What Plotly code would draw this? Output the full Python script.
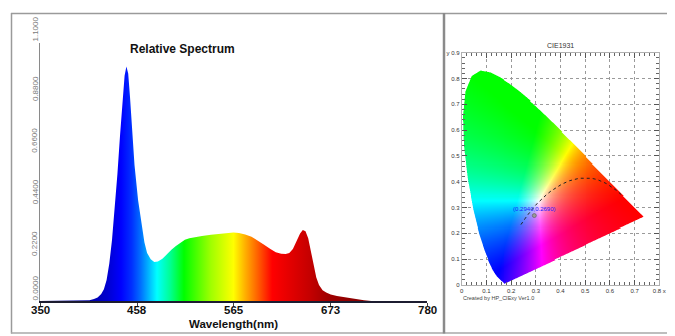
import numpy as np
import plotly.graph_objects as go

# The page places the figure 8 px from the top-left corner, so the figure is
# sized to fill the rest of the 675x336 window and positions are offset.
PAGE_W, PAGE_H, OFF = 675, 336, 8
W, H = PAGE_W - OFF, PAGE_H - OFF

# ---------------- Relative spectrum data ----------------
wavelength = [350, 400, 405, 410, 414, 418, 421, 424, 427, 430, 433, 436, 439, 442, 444, 446, 448, 450, 452, 455,
              459, 463, 466, 469, 473, 477, 481, 486, 491, 496, 501, 506, 511, 516, 522, 530, 540, 550, 558, 565,
              571, 578, 585, 592, 599, 606, 612, 618, 623, 627, 631, 635, 639, 642, 645, 648, 651, 654, 657, 660,
              664, 668, 673, 680, 690, 700, 710, 718, 780]
relative = [0, 0, 0.003, 0.008, 0.015, 0.03, 0.05, 0.09, 0.16, 0.26, 0.39, 0.54, 0.71, 0.87, 0.96, 1.0, 0.97, 0.87, 0.75, 0.58,
            0.43, 0.32, 0.25, 0.205, 0.178, 0.166, 0.168, 0.18, 0.2, 0.218, 0.235, 0.25, 0.261, 0.268, 0.273, 0.277, 0.282, 0.286, 0.29, 0.292,
            0.29, 0.284, 0.274, 0.258, 0.24, 0.222, 0.208, 0.201, 0.2, 0.205, 0.222, 0.255, 0.288, 0.303, 0.297, 0.268, 0.215, 0.155, 0.1, 0.068,
            0.046, 0.036, 0.028, 0.021, 0.014, 0.008, 0.003, 0, 0]

x_tick_vals = [350, 458, 565, 673, 780]
x_tick_text = ["350", "458", "565", "673", "780"]
y_tick_vals = [0, 0.22, 0.44, 0.66, 0.88, 1.1]
y_tick_text = ["0.0000", "0.2200", "0.4400", "0.6600", "0.8800", "1.1000"]

spec_color_nm = [350, 405, 425, 440, 452, 462, 470, 480, 495, 510, 540, 565, 578, 592, 608, 630, 650, 670, 700, 780]
spec_colors = ['#000080', '#0000a8', '#0000d0', '#0000ff', '#0030ff', '#0070ff', '#00b0ff', '#00ffff', '#00ff90',
               '#00ff00', '#a0ff00', '#ffff00', '#ffb000', '#ff6000', '#ff0000', '#e00000', '#c40000', '#a00000',
               '#8b0000', '#800000']

# ---------------- CIE 1931 data ----------------
locus_nm = [380, 400, 420, 430, 440, 445, 450, 455, 460, 465, 470, 475, 480, 485, 490, 495, 500, 505, 510, 515,
            520, 525, 530, 535, 540, 545, 550, 555, 560, 565, 570, 575, 580, 585, 590, 595, 600, 610, 620, 630,
            640, 650, 660, 680, 700]
locus_x = [0.1741, 0.1733, 0.1714, 0.1689, 0.1644, 0.1611, 0.1566, 0.1510, 0.1440, 0.1355, 0.1241, 0.1096, 0.0913,
           0.0687, 0.0454, 0.0235, 0.0082, 0.0039, 0.0139, 0.0389, 0.0743, 0.1142, 0.1547, 0.1929, 0.2296, 0.2658,
           0.3016, 0.3373, 0.3731, 0.4087, 0.4441, 0.4788, 0.5125, 0.5448, 0.5752, 0.6029, 0.6270, 0.6658, 0.6915,
           0.7079, 0.7190, 0.7260, 0.7300, 0.7334, 0.7347]
locus_y = [0.0050, 0.0048, 0.0051, 0.0069, 0.0109, 0.0138, 0.0177, 0.0227, 0.0297, 0.0399, 0.0578, 0.0868, 0.1327,
           0.2007, 0.2950, 0.4127, 0.5384, 0.6548, 0.7502, 0.8120, 0.8338, 0.8262, 0.8059, 0.7816, 0.7543, 0.7243,
           0.6923, 0.6589, 0.6245, 0.5896, 0.5547, 0.5202, 0.4866, 0.4544, 0.4242, 0.3965, 0.3725, 0.3340, 0.3083,
           0.2920, 0.2809, 0.2740, 0.2700, 0.2666, 0.2653]

planck_x = [0.2399, 0.2453, 0.2501, 0.2565, 0.2637, 0.2718, 0.2807, 0.2952, 0.3064, 0.3135, 0.3221, 0.3451, 0.3608,
            0.3805, 0.4053, 0.4369, 0.4476, 0.4770, 0.5267, 0.5497, 0.5857, 0.6251, 0.6528]
planck_y = [0.2342, 0.2406, 0.2477, 0.2570, 0.2671, 0.2776, 0.2883, 0.3048, 0.3166, 0.3237, 0.3318, 0.3516, 0.3636,
            0.3768, 0.3907, 0.4041, 0.4074, 0.4137, 0.4133, 0.4081, 0.3931, 0.3674, 0.3444]

point_x = [0.2940]
point_y = [0.2690]
point_label = ["(0.2940,0.2690)"]

cie_x_ticks = [0, 0.1, 0.2, 0.3, 0.4, 0.5, 0.6, 0.7, 0.8]
cie_x_text = ["0", "0.1", "0.2", "0.3", "0.4", "0.5", "0.6", "0.7", "0.8 x"]
cie_y_ticks = [0, 0.1, 0.2, 0.3, 0.4, 0.5, 0.6, 0.7, 0.8, 0.9]
cie_y_text = ["0", "0.1", "0.2", "0.3", "0.4", "0.5", "0.6", "0.7", "0.8", "y 0.9"]


def px(x):
    return (x - OFF) / W


def py(y):
    return 1 - (y - OFF) / H


FONT = "Liberation Sans, Arial, sans-serif"

# ---------------- build chromaticity image ----------------
nx, ny = 200, 225
dx = 0.8 / nx
dy = 0.9 / ny
xc = (np.arange(nx) + 0.5) * dx
yc = 0.9 - (np.arange(ny) + 0.5) * dy  # top row first
XX, YY = np.meshgrid(xc, yc)


def inside(polx, poly, X, Y):
    res = np.zeros(X.shape, bool)
    n = len(polx)
    j = n - 1
    for i in range(n):
        xi, yi, xj, yj = polx[i], poly[i], polx[j], poly[j]
        cond = (yi > Y) != (yj > Y)
        denom = (yj - yi) if (yj - yi) != 0 else 1e-12
        xint = (xj - xi) * (Y - yi) / denom + xi
        res ^= cond & (X < xint)
        j = i
    return res


ss = 3
off = (np.arange(ss) + 0.5) / ss - 0.5
cov = np.zeros(XX.shape)
for ox in off:
    for oy in off:
        cov += inside(locus_x, locus_y, XX + ox * dx, YY + oy * dy)
cov /= ss * ss

ys = np.maximum(YY, 1e-4)
Xv = XX / ys
Yv = np.ones_like(XX)
Zv = (1 - XX - YY) / ys
M = np.array([[3.2406, -1.5372, -0.4986],
              [-0.9689, 1.8758, 0.0415],
              [0.0557, -0.2040, 1.0570]])
rgb = np.stack([M[k, 0] * Xv + M[k, 1] * Yv + M[k, 2] * Zv for k in range(3)], axis=-1)
rgb = np.clip(rgb, 0, None)
mx = rgb.max(axis=-1, keepdims=True)
mx[mx == 0] = 1
rgb = rgb / mx
rgb = np.clip(np.round(rgb * 255), 0, 255).astype(int)
z = np.concatenate([rgb, np.round(cov, 2)[..., None]], axis=-1)
z_list = [[[int(p[0]), int(p[1]), int(p[2]), float(p[3])] for p in row] for row in z]

# ---------------- figure ----------------
fig = go.Figure()

pos = [(v - 350) / 430 for v in spec_color_nm]
colorscale = [[p, c] for p, c in zip(pos, spec_colors)]

fig.add_trace(go.Scatter(
    x=wavelength, y=relative, mode="lines", fill="tozeroy",
    line=dict(width=0, color="rgba(0,0,0,0)"),
    fillgradient=dict(type="horizontal", colorscale=colorscale, start=350, stop=780),
    hoverinfo="skip", showlegend=False, xaxis="x", yaxis="y"))

fig.add_trace(go.Image(z=z_list, colormodel="rgba", x0=dx / 2, dx=dx, y0=0.9 - dy / 2, dy=-dy,
                       xaxis="x2", yaxis="y2", hoverinfo="skip"))

fig.add_trace(go.Scatter(x=planck_x, y=planck_y, mode="lines",
                         line=dict(color="#222", width=1, dash="dot"),
                         hoverinfo="skip", showlegend=False, xaxis="x2", yaxis="y2"))

fig.add_trace(go.Scatter(x=point_x, y=point_y, mode="markers+text", text=point_label,
                         textposition="top center",
                         textfont=dict(size=6, color="#1a1aff", family=FONT),
                         marker=dict(size=4, color="#9a9a9a", line=dict(color="#555", width=0.6)),
                         hoverinfo="skip", showlegend=False, xaxis="x2", yaxis="y2"))

annotations = []
for i, (v, t) in enumerate(zip(y_tick_vals, y_tick_text)):
    shift = -1 if i == 0 else (0 if i == len(y_tick_vals) - 1 else -8)
    annotations.append(dict(text=t, x=px(35), xref="paper", xanchor="center",
                            y=v, yref="y", yanchor="bottom", yshift=shift, textangle=-90,
                            showarrow=False, font=dict(size=8, color="#7a7a7a", family=FONT)))
for v, t in zip(x_tick_vals, x_tick_text):
    annotations.append(dict(text="<b>%s</b>" % t, x=v, xref="x", y=py(310.3), yref="paper",
                            xanchor="center", yanchor="middle", showarrow=False, borderpad=0,
                            font=dict(size=11.5, color="#111", family=FONT)))
annotations.append(dict(text="<b>Wavelength(nm)</b>", x=px(234), y=py(323.9), xref="paper", yref="paper",
                        xanchor="center", yanchor="middle", borderpad=0,
                        showarrow=False, font=dict(size=11.5, color="#111", family=FONT)))
annotations.append(dict(text="<b>Relative Spectrum</b>", x=px(182.5), y=py(49), xref="paper", yref="paper",
                        xanchor="center", yanchor="middle",
                        showarrow=False, font=dict(size=12, color="#111", family=FONT)))
annotations.append(dict(text="CIE1931", x=px(560.7), y=py(45.7), xref="paper", yref="paper",
                        xanchor="center", yanchor="middle",
                        showarrow=False, font=dict(size=7, color="#333", family=FONT)))
annotations.append(dict(text="Created by HP_CIExy Ver1.0", x=px(461), y=py(297.8), xref="paper", yref="paper",
                        xanchor="left", yanchor="middle",
                        showarrow=False, font=dict(size=5.5, color="#444", family=FONT)))

shapes = [
    dict(type="line", xref="paper", yref="paper", x0=px(11.5), x1=px(11.5), y0=py(13), y1=py(333.5),
         line=dict(color="#9a9a9a", width=1.5)),
    dict(type="line", xref="paper", yref="paper", x0=px(11), x1=1, y0=py(13.5), y1=py(13.5),
         line=dict(color="#9a9a9a", width=1.5)),
    dict(type="line", xref="paper", yref="paper", x0=px(11), x1=1, y0=py(333), y1=py(333),
         line=dict(color="#a8a8a8", width=1.5)),
    dict(type="line", xref="paper", yref="paper", x0=px(444), x1=px(444), y0=py(13), y1=py(333.5),
         line=dict(color="#8a8a8a", width=2.5)),
]

fig.update_layout(
    width=W, height=H, margin=dict(l=0, r=0, t=0, b=0, pad=0, autoexpand=False),
    paper_bgcolor="white", plot_bgcolor="rgba(0,0,0,0)",
    showlegend=False, annotations=annotations, shapes=shapes,
    font=dict(family=FONT),
    xaxis=dict(domain=[px(40), px(427)], range=[350, 780], anchor="y", automargin=False,
               tickvals=x_tick_vals, showticklabels=False,
               showline=True, linecolor="#1c1c30", linewidth=1.5,
               ticks="outside", ticklen=3, tickcolor="#444", tickwidth=1,
               showgrid=False, zeroline=False, fixedrange=True),
    yaxis=dict(domain=[py(301), py(43)], range=[0, 1.1], anchor="x", automargin=False,
               showline=True, linecolor="#8a8a8a", linewidth=1,
               showticklabels=False, ticks="", showgrid=False, zeroline=False, fixedrange=True),
    xaxis2=dict(domain=[px(461.7), px(659.3)], range=[0, 0.8], anchor="y2", automargin=False,
                tickvals=cie_x_ticks, ticktext=cie_x_text,
                tickfont=dict(size=6, color="#333", family=FONT),
                showline=True, linecolor="#b0b0b0", linewidth=1, mirror="ticks",
                ticks="inside", ticklen=5, tickcolor="#555", tickwidth=1,
                minor=dict(dtick=0.02, ticks="inside", ticklen=3, tickcolor="#666", showgrid=False),
                showgrid=True, gridcolor="#9a9a9a", griddash="dot", gridwidth=1,
                zeroline=False, fixedrange=True),
    yaxis2=dict(domain=[py(285), py(52.7)], range=[0, 0.9], anchor="x2", autorange=False, automargin=False,
                scaleanchor=False,
                tickvals=cie_y_ticks, ticktext=cie_y_text,
                tickfont=dict(size=6, color="#333", family=FONT),
                showline=True, linecolor="#b0b0b0", linewidth=1, mirror="ticks",
                ticks="inside", ticklen=5, tickcolor="#555", tickwidth=1,
                minor=dict(dtick=0.02, ticks="inside", ticklen=3, tickcolor="#666", showgrid=False),
                showgrid=True, gridcolor="#9a9a9a", griddash="dot", gridwidth=1,
                zeroline=False, fixedrange=True),
)

fig.write_html("out.html")
